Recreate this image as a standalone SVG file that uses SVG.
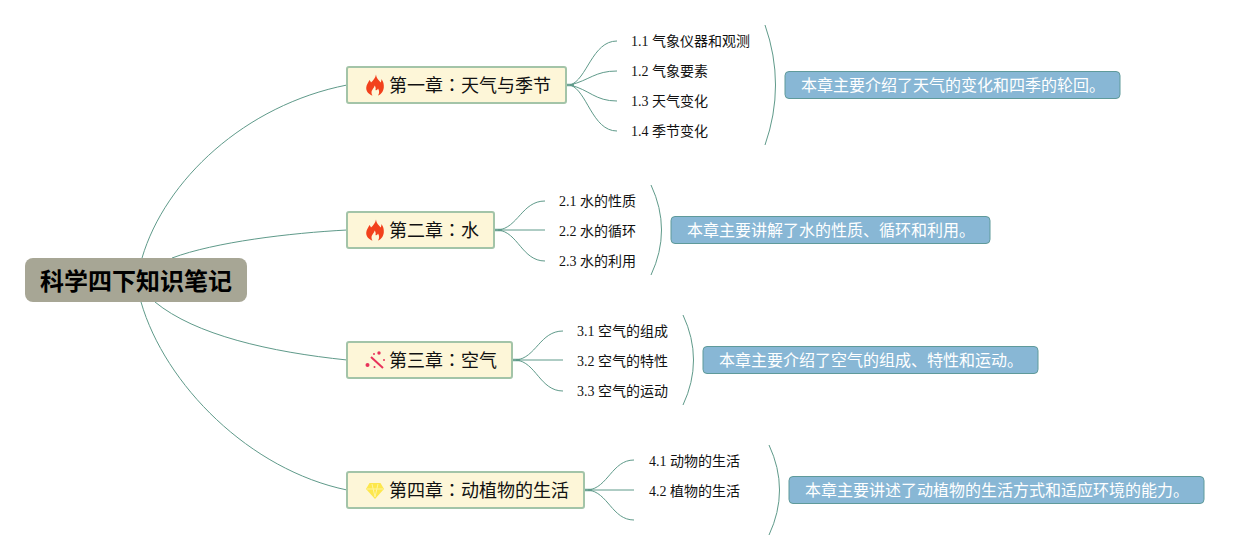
<svg xmlns="http://www.w3.org/2000/svg" width="1249" height="560" viewBox="0 0 1249 560">
<defs>
<style>
text{font-family:"Liberation Serif","Noto Sans CJK SC",serif}
.k{font-family:"Noto Sans CJK TC",sans-serif}
.c{fill:none;stroke:#5f9a8a;stroke-width:1}
.t{fill:none;stroke:#6fa596;stroke-width:2.500}
.ch{fill:#fdf6d8;stroke:#a3c4a8;stroke-width:2}
.cht{font-size:18px;fill:#111}
.s{font-size:14px;fill:#111}
.n{fill:#88b7d5;stroke:#5f9a9a;stroke-width:1}
.nt{font-size:16px;fill:#fff}
</style>
<g id="flame"><path d="M1-10.500C1.500-6 4-5 5.500-2.500C6.300-3.300 6.500-4.500 6.300-6C8.500-3.500 9 -.5 8.800 2.500C8.500 7 5 10 3 10.500C4.500 8.500 4.500 5.500 3 3.500C2.500 5 1.500 5.500 .5 5C1 3 .5 1.500 -.5 .5C-.5 3 -3.500 4.500 -3.500 7.500C-3.500 8.800 -3.200 9.800 -2.500 10.500C-5.500 9.800 -8.800 7 -8.800 3C-8.800 -.5 -6.500 -2.500 -5.500 -5C-4.800 -4.200 -4.300 -3.500 -4 -2.500C-2 -4.500 .5 -7 1 -10.500Z" fill="#f2411c"/></g>
</defs>
<rect width="1249" height="560" fill="#fff"/>
<g id="connectors">
<path class="c" d="M142 258C165 180 245 105 347 85"/>
<path class="c" d="M172 258C215 242 290 233 347 230"/>
<path class="c" d="M155 302C195 335 270 352 347 360"/>
<path class="c" d="M141 302C165 385 250 470 347 490"/>
<path class="t" d="M566 85H574"/>
<path class="c" d="M570 85C587 80 592 41 617 41"/>
<path class="c" d="M570 85C590 80 595 71 617 71"/>
<path class="c" d="M570 85C590 90 595 101 617 101"/>
<path class="c" d="M570 85C587 90 592 131 617 131"/>
<path class="c" d="M765 25Q786 85 765 145"/>
<path class="t" d="M494 230H502"/>
<path class="c" d="M498 230C518 228 522 201 545 201"/>
<path class="c" d="M498 230H545"/>
<path class="c" d="M498 230C518 232 522 261 545 261"/>
<path class="c" d="M651 185Q672 230 651 275"/>
<path class="t" d="M512 360H520"/>
<path class="c" d="M516 360C536 358 540 331 563 331"/>
<path class="c" d="M516 360H563"/>
<path class="c" d="M516 360C536 362 540 391 563 391"/>
<path class="c" d="M683 315Q704 360 683 405"/>
<path class="t" d="M584 490H592"/>
<path class="c" d="M588 490C608 488 612 460 634 460"/>
<path class="c" d="M588 490H634"/>
<path class="c" d="M588 490C608 492 612 520 634 520"/>
<path class="c" d="M769 445Q790 490 769 535"/>
</g>
<g id="root">
<rect x="25" y="258" width="222" height="44" rx="8" fill="#a7a695"/>
<text x="136" y="290" text-anchor="middle" font-size="24" font-weight="700" fill="#000">科学四下知识笔记</text>
</g>
<g id="ch1">
<rect class="ch" x="347" y="67" width="219" height="36" rx="2"/>
<use href="#flame" x="375" y="85"/>
<text class="cht" x="389" y="92">第一章<tspan class="k">：</tspan>天气与季节</text>
</g>
<g id="ch2">
<rect class="ch" x="347" y="212" width="147" height="36" rx="2"/>
<use href="#flame" x="375" y="230"/>
<text class="cht" x="389" y="237">第二章<tspan class="k">：</tspan>水</text>
</g>
<g id="ch3">
<rect class="ch" x="347" y="342" width="165" height="36" rx="2"/>
<path d="M371 357L383 368" fill="none" stroke="#e8325a" stroke-width="2"/>
<g fill="#e8325a"><circle cx="367.500" cy="365" r="2"/><circle cx="379" cy="353" r="1.700"/><circle cx="374.500" cy="367" r="1"/><circle cx="374" cy="354" r="1"/><circle cx="384" cy="360" r="1"/></g>
<text class="cht" x="389" y="367">第三章<tspan class="k">：</tspan>空气</text>
</g>
<g id="ch4">
<rect class="ch" x="347" y="472" width="237" height="36" rx="2"/>
<path d="M369.500 483H380.500L384 489L375 499L366 489Z" fill="#fde74c"/>
<path d="M367 489H383M372 484L375 497L378 484" fill="none" stroke="#fdf4a0" stroke-width="1"/>
<text class="cht" x="389" y="497">第四章<tspan class="k">：</tspan>动植物的生活</text>
</g>
<g id="sub1">
<text class="s" x="631" y="46">1.1 气象仪器和观测</text>
<text class="s" x="631" y="76">1.2 气象要素</text>
<text class="s" x="631" y="106">1.3 天气变化</text>
<text class="s" x="631" y="136">1.4 季节变化</text>
</g>
<g id="sub2">
<text class="s" x="559" y="206">2.1 水的性质</text>
<text class="s" x="559" y="236">2.2 水的循环</text>
<text class="s" x="559" y="266">2.3 水的利用</text>
</g>
<g id="sub3">
<text class="s" x="577" y="336">3.1 空气的组成</text>
<text class="s" x="577" y="366">3.2 空气的特性</text>
<text class="s" x="577" y="396">3.3 空气的运动</text>
</g>
<g id="sub4">
<text class="s" x="649" y="466">4.1 动物的生活</text>
<text class="s" x="649" y="496">4.2 植物的生活</text>
</g>
<g id="note1"><rect class="n" x="785" y="71.500" width="335" height="27" rx="4"/><text class="nt" x="801" y="91">本章主要介绍了天气的变化和四季的轮回。</text></g>
<g id="note2"><rect class="n" x="671" y="216.500" width="319" height="27" rx="4"/><text class="nt" x="687" y="236">本章主要讲解了水的性质、循环和利用。</text></g>
<g id="note3"><rect class="n" x="703" y="346.500" width="335" height="27" rx="4"/><text class="nt" x="719" y="366">本章主要介绍了空气的组成、特性和运动。</text></g>
<g id="note4"><rect class="n" x="789" y="476.500" width="415" height="27" rx="4"/><text class="nt" x="805" y="496">本章主要讲述了动植物的生活方式和适应环境的能力。</text></g>
</svg>
